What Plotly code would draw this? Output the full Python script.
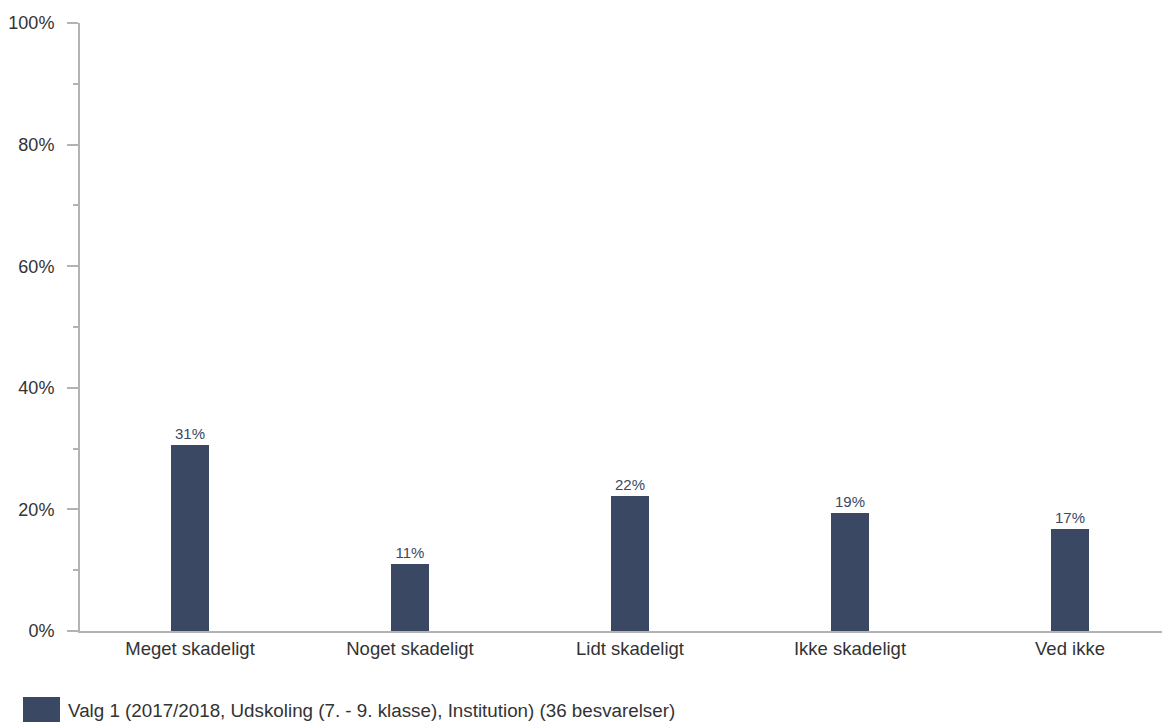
import plotly.graph_objects as go

categories = ["Meget skadeligt", "Noget skadeligt", "Lidt skadeligt", "Ikke skadeligt", "Ved ikke"]
values = [0.306, 0.111, 0.222, 0.194, 0.167]
labels = ["31%", "11%", "22%", "19%", "17%"]
series_name = "Valg 1 (2017/2018, Udskoling (7. - 9. klasse), Institution) (36 besvarelser)"

bar_color = "#3a4864"
axis_color = "#b3b3b3"
text_color = "#333333"
font_fam = "Arial, Liberation Sans, sans-serif"

# page body has an 8px margin, so the figure is drawn 8px in from the top-left
OFF = 8
W, H = 1170 - OFF, 722 - OFF
ml, mr, mt, mb = 80 - OFF, 0, 23 - OFF, 722 - 631
pw, ph = W - ml - mr, H - mt - mb

fig = go.Figure()
fig.add_trace(go.Bar(
    x=list(range(len(categories))), y=values, width=0.177,
    marker=dict(color=bar_color, line=dict(width=0)),
    text=labels, textposition="outside", cliponaxis=False,
    textfont=dict(size=15, color=bar_color, family=font_fam),
    name=series_name, showlegend=False, hoverinfo="skip",
))

def px2paper_x(px):
    return (px - OFF - ml) / pw

def px2paper_y(py):
    return (H - mb - (py - OFF)) / ph

fig.add_shape(type="rect", xref="paper", yref="paper",
              x0=px2paper_x(23), x1=px2paper_x(60),
              y0=px2paper_y(722), y1=px2paper_y(697),
              fillcolor=bar_color, line=dict(width=0))
fig.add_annotation(xref="paper", yref="paper", x=px2paper_x(66), y=px2paper_y(710),
                   xanchor="left", yanchor="middle", showarrow=False,
                   text=series_name,
                   font=dict(size=18.8, color=text_color, family=font_fam))

fig.update_layout(
    width=W, height=H,
    margin=dict(l=ml, r=mr, t=mt, b=mb),
    plot_bgcolor="white", paper_bgcolor="white",
    font=dict(family=font_fam, size=18.5, color=text_color),
    bargap=0,
    xaxis=dict(
        range=[-0.5, -0.5 + pw / 220.0],
        tickmode="array", tickvals=list(range(len(categories))), ticktext=categories,
        showgrid=False, zeroline=False, showline=True, linecolor=axis_color, linewidth=2,
        ticks="", tickfont=dict(size=18.5, color=text_color),
    ),
    yaxis=dict(
        range=[0, 1], tickmode="array", tickvals=[0, 0.2, 0.4, 0.6, 0.8, 1.0],
        ticktext=["0%", "20%", "40%", "60%", "80%", "100%"],
        showgrid=False, zeroline=False, showline=True, linecolor=axis_color, linewidth=2,
        ticks="outside", ticklen=11, tickwidth=2, tickcolor=axis_color,
        minor=dict(tickvals=[0.1, 0.3, 0.5, 0.7, 0.9], ticks="outside", ticklen=5,
                   tickwidth=2, tickcolor=axis_color),
        tickfont=dict(size=18, color=text_color),
        ticklabelstandoff=9,
    ),
)

fig.write_html("out.html")
